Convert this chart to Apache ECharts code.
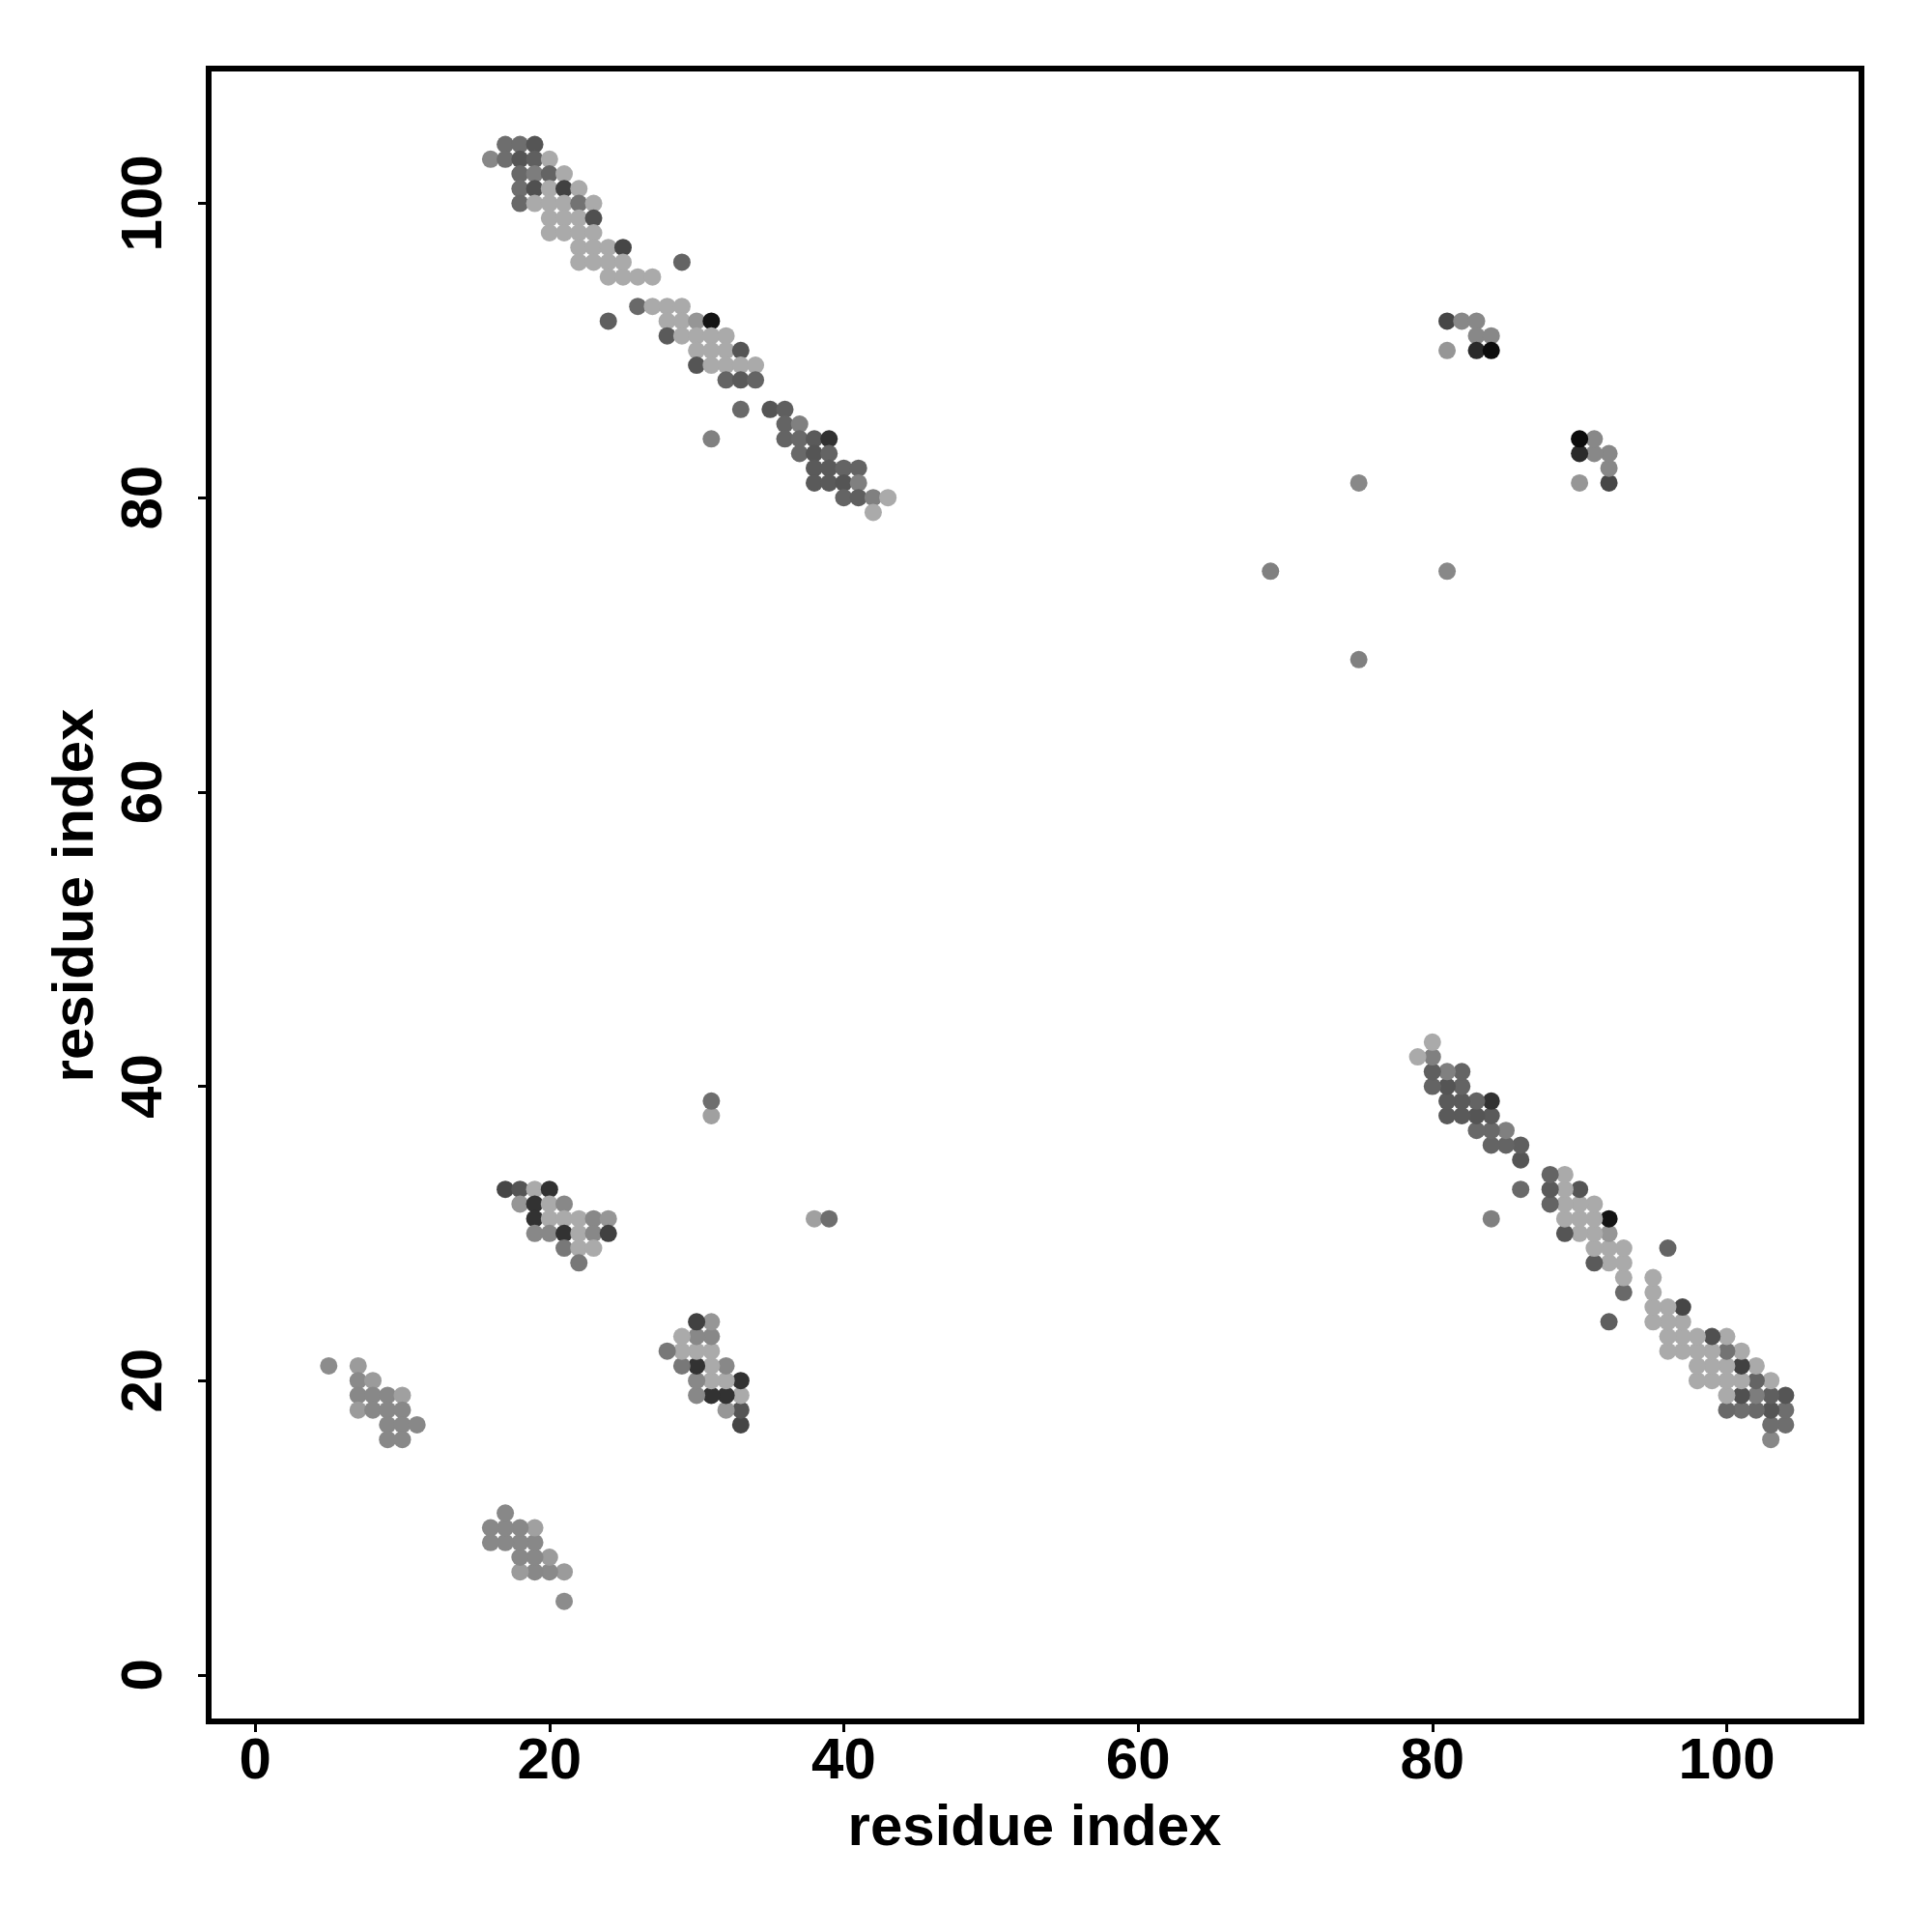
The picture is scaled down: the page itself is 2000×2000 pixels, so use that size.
<!DOCTYPE html>
<html>
<head>
<meta charset="utf-8">
<script src="https://cdn.jsdelivr.net/npm/echarts@6/dist/echarts.min.js"></script>
<style>
html,body{margin:0;padding:0;background:#fff;}
#chart{width:2000px;height:2000px;}
</style>
</head>
<body>
<div id="chart"></div>
<script>
// Contact pairs (i < j), symmetric map: each pair is drawn at (i,j) and (j,i)
const resI = [
  17,18,19,
  16,17,18,19,20,
  18,19,20,21,
  18,19,20,21,22,
  18,19,20,21,22,23,
  20,21,22,23,
  20,21,22,23,
  22,23,24,25,
  22,23,24,25,29,
  24,25,26,27,
  26,27,28,29,
  24,28,29,30,31,
  28,29,30,31,32,
  30,31,32,33,
  30,31,32,33,34,
  32,33,34,
  33,35,36,
  36,37,
  31,36,37,38,39,
  37,38,39,
  38,39,40,41,
  38,39,40,41,
  40,41,42,43,
  42,
  81,82,83,83,84,81,83,84,69,75,
  5,7,7,8,7,8,9,10,7,8,9,10,9,10,11,9,10,
  17,18,19,20,18,19,20,21,19,20,21,22,23,24,19,20,21,22,23,24,21,22,23,22,
  31,31
];
const resJ = [
  104,104,104,
  103,103,103,103,103,
  102,102,102,102,
  101,101,101,101,101,
  100,100,100,100,100,100,
  99,99,99,99,
  98,98,98,98,
  97,97,97,97,
  96,96,96,96,96,
  95,95,95,95,
  93,93,93,93,
  92,92,92,92,92,
  91,91,91,91,91,
  90,90,90,90,
  89,89,89,89,89,
  88,88,88,
  86,86,86,
  85,85,
  84,84,84,84,84,
  83,83,83,
  82,82,82,82,
  81,81,81,81,
  80,80,80,80,
  79,
  92,92,92,91,91,90,90,90,75,81,
  21,21,20,20,19,19,19,19,18,18,18,18,17,17,17,16,16,
  33,33,33,33,32,32,32,32,31,31,31,31,31,31,30,30,30,30,30,30,29,29,29,28,
  38,39
];
// grey level of each contact (0 = black, 255 = white)
const shade = [
  110,110,85,
  135,110,85,95,170,
  105,125,100,170,
  110,80,170,65,170,
  105,170,170,170,115,170,
  170,170,170,80,
  170,170,170,170,
  170,170,170,70,
  170,170,170,170,100,
  170,170,170,170,
  105,170,170,170,
  95,170,170,150,20,
  90,170,170,170,170,
  170,170,170,85,
  85,170,170,170,170,
  100,90,100,
  105,85,95,
  100,128,
  128,100,105,90,50,
  105,85,100,
  90,90,100,100,
  90,90,85,128,
  100,95,128,170,
  170,
  70,136,136,136,136,150,42,12,128,136,
  140,155,138,155,136,136,136,160,155,136,136,136,136,136,136,136,136,
  70,85,170,50,150,50,170,136,50,170,170,170,136,150,136,136,50,170,136,65,120,170,170,120,
  160,110
];
const xTicks = [0, 20, 40, 60, 80, 100];
const yTicks = [0, 20, 40, 60, 80, 100];
const axisTitleX = 'residue index';
const axisTitleY = 'residue index';

const points = [];
for (let k = 0; k < resI.length; k++) {
  points.push([resI[k], resJ[k], shade[k]]);
  points.push([resJ[k], resI[k], shade[k]]);
}

const FONT = 'Liberation Sans, Arial, Helvetica, sans-serif';
const chart = echarts.init(document.getElementById('chart'), null, {renderer: 'canvas'});
chart.setOption({
  animation: false,
  backgroundColor: '#ffffff',
  grid: {left: 216, right: 73, top: 71, bottom: 218, show: true,
         borderColor: '#000', borderWidth: 6, backgroundColor: 'transparent'},
  xAxis: {
    type: 'value', min: -3.16, max: 109.16,
    axisLine: {show: false, onZero: false},
    splitLine: {show: false},
    axisTick: {show: true, length: 11, lineStyle: {color: '#000', width: 3}, customValues: xTicks},
    axisLabel: {show: true, customValues: xTicks, color: '#000', fontFamily: FONT,
                fontWeight: 'bold', fontSize: 60, margin: 12}
  },
  yAxis: {
    type: 'value', min: -3.16, max: 109.16,
    axisLine: {show: false, onZero: false},
    splitLine: {show: false},
    axisTick: {show: true, length: 11, lineStyle: {color: '#000', width: 3}, customValues: yTicks},
    axisLabel: {show: true, customValues: yTicks, rotate: 90, color: '#000', fontFamily: FONT,
                fontWeight: 'bold', fontSize: 60, margin: 36}
  },
  graphic: [
    {type: 'text', x: 1071, y: 1893,
     style: {text: axisTitleX, font: 'bold 60px ' + FONT, fill: '#000',
             align: 'center', verticalAlign: 'middle'}},
    {type: 'text', x: 79, y: 927, rotation: Math.PI / 2,
     style: {text: axisTitleY, font: 'bold 60px ' + FONT, fill: '#000',
             align: 'center', verticalAlign: 'middle'}}
  ],
  series: [{
    type: 'scatter',
    data: points,
    symbol: 'circle',
    symbolSize: 18,
    itemStyle: {
      opacity: 1,
      color: function (p) { const v = p.value[2]; return 'rgb(' + v + ',' + v + ',' + v + ')'; }
    }
  }]
});
</script>
</body>
</html>
